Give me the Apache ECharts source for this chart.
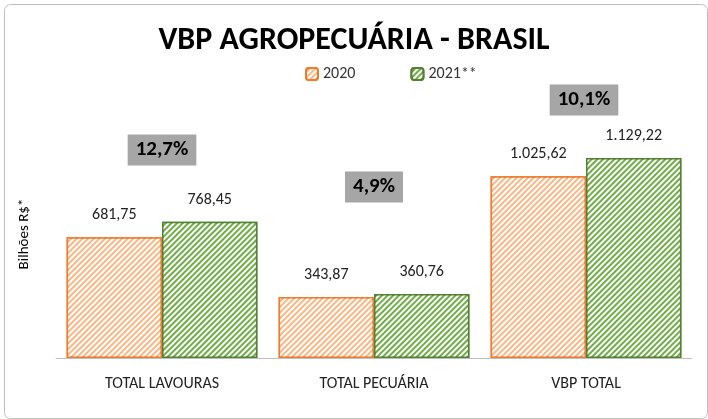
<!DOCTYPE html><html><head><meta charset="utf-8"><script src="https://cdn.jsdelivr.net/npm/echarts@6/dist/echarts.min.js"></script>
<style>body{margin:0}#c{width:708px;height:419px}</style></head><body><div id="c"></div><script>
const categories=['TOTAL LAVOURAS','TOTAL PECUÁRIA','VBP TOTAL'];
const v2020=[681.75,343.87,1025.62];
const v2021=[768.45,360.76,1129.22];
const growth=['12,7%','4,9%','10,1%'];
const fmt=v=>v.toLocaleString('pt-BR',{minimumFractionDigits:2,maximumFractionDigits:2});
const ch=echarts.init(document.getElementById('c'));
const decal=c=>({symbol:'rect',color:c,dashArrayX:[1,0],dashArrayY:[2,2],rotation:-Math.PI/4,symbolSize:1});
const font='Calibri, Carlito, "Liberation Sans", sans-serif';
ch.setOption({
 aria:{enabled:true,decal:{show:true}},
 animation:false,
 title:{text:'VBP AGROPECUÁRIA - BRASIL',left:'center',top:20,textStyle:{fontSize:32,fontWeight:'bold',color:'#000',fontFamily:font}},
 legend:{top:61,left:300,itemWidth:12,itemHeight:12,itemGap:55,textStyle:{fontSize:16,color:'#333',fontFamily:font},data:['2020','2021**']},
 grid:{left:56,right:16,top:110,bottom:61},
 xAxis:{type:'category',data:categories,axisTick:{show:false},axisLine:{lineStyle:{color:'#bfbfbf'}},axisLabel:{fontSize:16,color:'#222',margin:18,fontFamily:font}},
 yAxis:{type:'value',min:0,max:1400,show:true,axisLine:{show:false},axisLabel:{show:false},splitLine:{show:false},axisTick:{show:false},
  name:'Bilhões R$*',nameLocation:'middle',nameGap:24,nameTextStyle:{fontSize:15,color:'#000',fontFamily:font}},
 series:[
  {name:'2020',type:'bar',data:v2020,barWidth:'45%',barGap:'0%',itemStyle:{color:'#fbb685',borderColor:'#ED7D31',borderWidth:1.5,decal:decal('#ffffff')},
   label:{show:true,position:'top',distance:14,formatter:p=>fmt(p.value),fontSize:16,color:'#222',fontFamily:font}},
  {name:'2021**',type:'bar',data:v2021,barWidth:'45%',itemStyle:{color:'#70AD47',borderColor:'#548235',borderWidth:1.5,decal:decal('#ffffff')},
   label:{show:true,position:'top',distance:14,formatter:p=>fmt(p.value),fontSize:16,color:'#222',fontFamily:font}}
 ],
 graphic:[
  {type:'rect',left:2,top:2,shape:{width:703,height:414,r:6},style:{fill:'none',stroke:'#bfbfbf',lineWidth:1}},
  ...growth.map((g,i)=>({type:'text',x:[162,374,584][i],y:[150,187,100][i],style:{text:g,fontSize:21,fontWeight:'bold',fontFamily:font,fill:'#000',backgroundColor:'#a6a6a6',padding:[5,8],align:'center',verticalAlign:'middle'}}))
 ]
});
</script></body></html>
